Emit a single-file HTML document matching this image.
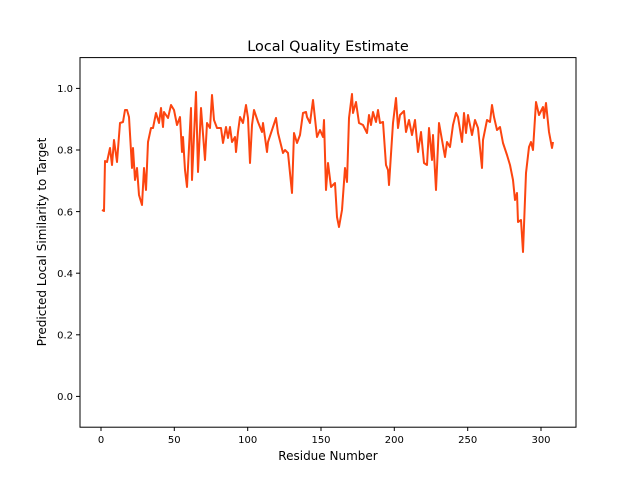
<!DOCTYPE html>
<html><head><style>body{margin:0;background:#fff}svg{display:block}text{font-family:"DejaVu Sans","Liberation Sans",sans-serif}</style></head>
<body>
<svg width="640" height="480" xmlns="http://www.w3.org/2000/svg">
<rect width="640" height="480" fill="#fff"/>
<polyline fill="none" stroke="#fc4510" stroke-width="2" stroke-linejoin="round" points="102,210 104,211 105,161 107,162 110,148 112,165 114,140 117,162 120,123 123,122 125,110 127,110 129,117 132,168 133,148 135,180 137,168 139,195 142,205 144,168 146,190 148,142 151,128 153,128 156,113 159,123 161,108 163,127 164,112 168,118 171,105 174,110 177,125 180,117 182,152 183,137 185,170 187,187 191,108 192,180 196,92 198,172 201,108 205,160 207,123 210,128 212,95 214,120 217,128 221,128 223,143 226,127 228,138 230,127 232,142 235,137 236,152 238,132 240,117 243,123 246,105 248,118 250,163 252,125 254,110 258,122 262,132 263,123 267,152 268,142 273,127 276,118 278,133 283,153 285,150 288,153 292,193 294,133 297,143 300,135 303,113 306,112 307,117 310,123 313,100 317,137 320,130 323,137 324,120 326,190 328,163 331,187 335,183 337,217 339,227 342,210 345,168 347,182 349,118 352,94 353,113 356,102 359,123 363,125 367,133 369,115 371,125 373,112 376,122 378,110 380,123 383,122 386,165 388,170 389,185 393,123 396,98 398,128 400,115 404,111 406,132 409,120 412,135 415,120 418,152 421,132 424,163 427,165 429,128 432,160 433,135 436,190 439,123 442,140 445,157 447,142 450,147 453,125 456,113 458,117 462,142 464,113 466,133 468,115 472,135 475,120 478,128 482,168 483,140 487,120 490,122 492,105 494,117 497,130 500,127 503,143 507,155 510,165 513,180 515,200 517,193 518,222 521,220 523,252 526,173 529,147 531,142 533,150 536,102 539,115 543,107 544,118 546,103 549,132 552,148 553,142"/>
<rect x="80" y="57.6" width="496" height="369.6" fill="none" stroke="#000" stroke-width="1"/>
<g stroke="#000" stroke-width="1">
<line x1="101" y1="427" x2="101" y2="431"/><line x1="174.3" y1="427" x2="174.3" y2="431"/><line x1="247.7" y1="427" x2="247.7" y2="431"/><line x1="321" y1="427" x2="321" y2="431"/><line x1="394.3" y1="427" x2="394.3" y2="431"/><line x1="467.7" y1="427" x2="467.7" y2="431"/><line x1="541" y1="427" x2="541" y2="431"/>
<line x1="76" y1="396.4" x2="80" y2="396.4"/><line x1="76" y1="334.8" x2="80" y2="334.8"/><line x1="76" y1="273.2" x2="80" y2="273.2"/><line x1="76" y1="211.6" x2="80" y2="211.6"/><line x1="76" y1="150" x2="80" y2="150"/><line x1="76" y1="88.4" x2="80" y2="88.4"/>
</g>
<g font-size="10" text-anchor="middle">
<text x="101" y="443">0</text><text x="174.3" y="443">50</text><text x="247.7" y="443">100</text><text x="321" y="443">150</text><text x="394.3" y="443">200</text><text x="467.7" y="443">250</text><text x="541" y="443">300</text>
</g>
<g font-size="10" text-anchor="end">
<text x="73" y="400">0.0</text><text x="73" y="338.5">0.2</text><text x="73" y="277">0.4</text><text x="73" y="215.3">0.6</text><text x="73" y="153.7">0.8</text><text x="73" y="92">1.0</text>
</g>
<text x="328" y="460" font-size="12" text-anchor="middle">Residue Number</text>
<text x="46" y="242" font-size="12" text-anchor="middle" transform="rotate(-90 46 242)">Predicted Local Similarity to Target</text>
<text x="328" y="51" font-size="14.4" text-anchor="middle">Local Quality Estimate</text>
</svg>
</body></html>
